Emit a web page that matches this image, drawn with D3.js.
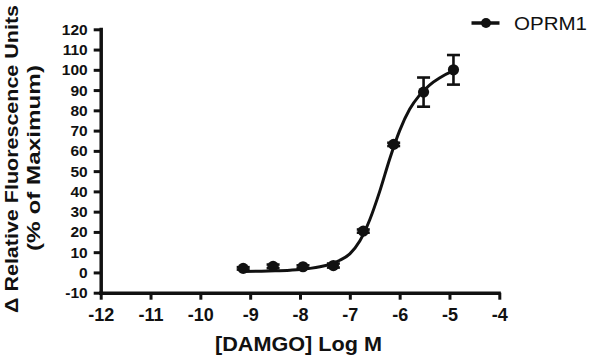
<!DOCTYPE html>
<html><head><meta charset="utf-8">
<script src="https://cdn.jsdelivr.net/npm/d3@7"></script>
<style>
html,body{margin:0;padding:0;background:#fff;}
svg{display:block;font-family:"Liberation Sans",Arial,sans-serif;}
</style></head>
<body><svg id="c" width="598" height="360"></svg>
<script>
// ---- data ----
const logDose = [-9.14, -8.54, -7.94, -7.33, -6.73, -6.12, -5.52, -4.92];
const response = [2.0, 3.0, 2.8, 3.4, 20.4, 63.2, 89.0, 100.0];
const sem = [0.6, 0.9, 0.7, 1.0, 0.8, 0.8, 7.2, 7.3];
const fitX = [-9.14, -8.8, -8.5, -8.2, -8.0, -7.8, -7.6, -7.4, -7.2, -7.0, -6.8, -6.6, -6.4, -6.2, -6.0, -5.8, -5.6, -5.4, -5.2, -5.0, -4.92];
const fitY = [0.5, 0.6, 0.8, 1.1, 1.4, 2.0, 2.8, 4.0, 6.0, 9.2, 15.5, 26.0, 40.0, 56.0, 70.0, 80.5, 87.5, 92.5, 96.0, 98.6, 99.3];
const xTicks = [-12, -11, -10, -9, -8, -7, -6, -5, -4];
const yTicks = [-10, 0, 10, 20, 30, 40, 50, 60, 70, 80, 90, 100, 110, 120];
const seriesName = "OPRM1";

const svg = d3.select("#c");
const ink = "#111";
const x = d3.scaleLinear().domain([-12, -4]).range([100.7, 499.3]);
const y = d3.scaleLinear().domain([-10, 120]).range([292.7, 29.3]);
const fmt = d => String(d);

// axes
const xAxis = svg.append("g").attr("transform", `translate(0,${y(-10)})`)
  .call(d3.axisBottom(x).tickValues(xTicks).tickSize(7).tickPadding(9).tickFormat(fmt));
const yAxis = svg.append("g").attr("transform", `translate(${x(-12)},0)`)
  .call(d3.axisLeft(y).tickValues(yTicks).tickSize(7).tickPadding(6).tickFormat(fmt));
[xAxis, yAxis].forEach(g => {
  g.select(".domain").attr("stroke", ink).attr("stroke-width", 3.5);
  g.selectAll(".tick line").attr("stroke", ink).attr("stroke-width", 3);
  g.selectAll(".tick text").attr("fill", ink).attr("font-weight", "bold")
    .attr("font-family", "Liberation Sans, Arial, sans-serif");
});
xAxis.select(".domain").attr("d", `M${x(-12)-1.7},0.5H${x(-4)+1.5}`);
yAxis.select(".domain").attr("d", `M0.5,${y(120)-1.5}V${y(-10)+1.5}`);
xAxis.selectAll(".tick text").attr("font-size", 18);
yAxis.selectAll(".tick text").attr("font-size", 15.5);

// fitted curve
svg.append("path").datum(fitX.map((v, i) => [v, fitY[i]]))
  .attr("fill", "none").attr("stroke", ink).attr("stroke-width", 3)
  .attr("d", d3.line().x(d => x(d[0])).y(d => y(d[1])).curve(d3.curveMonotoneX));

// error bars
const eb = svg.append("g").attr("stroke", ink).attr("stroke-width", 2.6);
logDose.forEach((v, i) => {
  const cx = x(v), t = y(response[i] + sem[i]), b = y(response[i] - sem[i]);
  eb.append("line").attr("x1", cx).attr("x2", cx).attr("y1", t).attr("y2", b);
  eb.append("line").attr("x1", cx - 6.5).attr("x2", cx + 6.5).attr("y1", t).attr("y2", t);
  eb.append("line").attr("x1", cx - 6.5).attr("x2", cx + 6.5).attr("y1", b).attr("y2", b);
});

// points
svg.append("g").selectAll("circle").data(logDose).join("circle")
  .attr("cx", d => x(d)).attr("cy", (d, i) => y(response[i])).attr("r", 5.6).attr("fill", ink);

// legend
const lg = svg.append("g");
lg.append("line").attr("x1", 471.5).attr("x2", 499.5).attr("y1", 23).attr("y2", 23)
  .attr("stroke", ink).attr("stroke-width", 3.5);
lg.append("circle").attr("cx", 486).attr("cy", 23).attr("r", 5).attr("fill", ink);
lg.append("text").attr("x", 514).attr("y", 29.5).attr("font-size", 17.5).attr("fill", ink)
  .attr("textLength", 73).attr("lengthAdjust", "spacingAndGlyphs").text(seriesName);

// axis titles
svg.append("text").attr("x", 298.5).attr("y", 351).attr("text-anchor", "middle")
  .attr("font-size", 19.5).attr("font-weight", "bold").attr("fill", ink)
  .attr("textLength", 167).attr("lengthAdjust", "spacingAndGlyphs").text("[DAMGO] Log M");
svg.append("text").attr("transform", "translate(17.5,159) rotate(-90)").attr("text-anchor", "middle")
  .attr("font-size", 19).attr("font-weight", "bold").attr("fill", ink)
  .attr("textLength", 308).attr("lengthAdjust", "spacingAndGlyphs").text("Δ Relative Fluorescence Units");
svg.append("text").attr("transform", "translate(40,158) rotate(-90)").attr("text-anchor", "middle")
  .attr("font-size", 19).attr("font-weight", "bold").attr("fill", ink)
  .attr("textLength", 186).attr("lengthAdjust", "spacingAndGlyphs").text("(% of Maximum)");
</script></body></html>
